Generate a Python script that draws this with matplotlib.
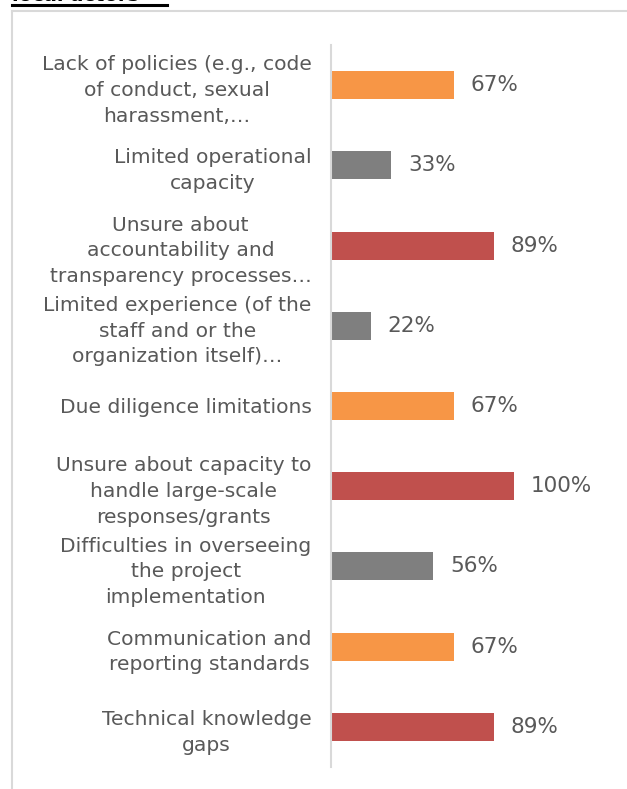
import numpy as np
import matplotlib
matplotlib.use("Agg")
import matplotlib.pyplot as plt
from matplotlib.lines import Line2D

# data
categories = [
    "Lack of policies (e.g., code\nof conduct, sexual\nharassment,…",
    "Limited operational\ncapacity",
    "Unsure about\naccountability and\ntransparency processes…",
    "Limited experience (of the\nstaff and or the\norganization itself)…",
    "Due diligence limitations",
    "Unsure about capacity to\nhandle large-scale\nresponses/grants",
    "Difficulties in overseeing\nthe project\nimplementation",
    "Communication and\nreporting standards",
    "Technical knowledge\ngaps",
]
values = [67, 33, 89, 22, 67, 100, 56, 67, 89]

ORANGE = "#F79646"
GREY = "#7F7F7F"
RED = "#C0504D"
bar_colors = [ORANGE, GREY, RED, GREY, ORANGE, RED, GREY, ORANGE, RED]

TEXT = "#595959"
FRAME = "#D9D9D9"

W, H = 627, 789
fig = plt.figure(figsize=(W / 100, H / 100), dpi=100)

ax = fig.add_axes([331 / W, (H - 767) / H, 274.5 / W, 722 / H])

y = np.arange(len(categories))
ax.barh(y, values, height=0.35, color=bar_colors)

for yi, v in zip(y, values):
    ax.text(v + 9, yi, f"{v}%", va="center", ha="left",
            fontsize=15.5, color=TEXT)

ax.set_xlim(0, 150)
ax.set_ylim(len(categories) - 0.5, -0.5)
ax.set_yticks(y)
ax.set_yticklabels(categories, fontsize=14.6, color=TEXT,
                   multialignment="center", linespacing=1.45)
ax.tick_params(axis="y", length=0, pad=14)
ax.set_xticks([])

for side in ["top", "right", "bottom"]:
    ax.spines[side].set_visible(False)
ax.spines["left"].set_color(FRAME)
ax.spines["left"].set_linewidth(1.5)

# outer frame of the slide box
fig.add_artist(Line2D([12 / W, 12 / W], [0, 1 - 11 / H],
                      transform=fig.transFigure, color=FRAME, lw=1.5))
fig.add_artist(Line2D([12 / W, 1], [1 - 11 / H, 1 - 11 / H],
                      transform=fig.transFigure, color=FRAME, lw=1.5))

# cut-off title at the very top
fig.text(12 / W, 1 - 1.0 / H, "local actors", fontsize=14, fontweight="bold",
         color="black", va="baseline", ha="left")
fig.add_artist(Line2D([12 / W, 167 / W], [1 - 4.5 / H, 1 - 4.5 / H],
                      transform=fig.transFigure, color="black", lw=2.2))

fig.savefig("out.png", dpi=100)
